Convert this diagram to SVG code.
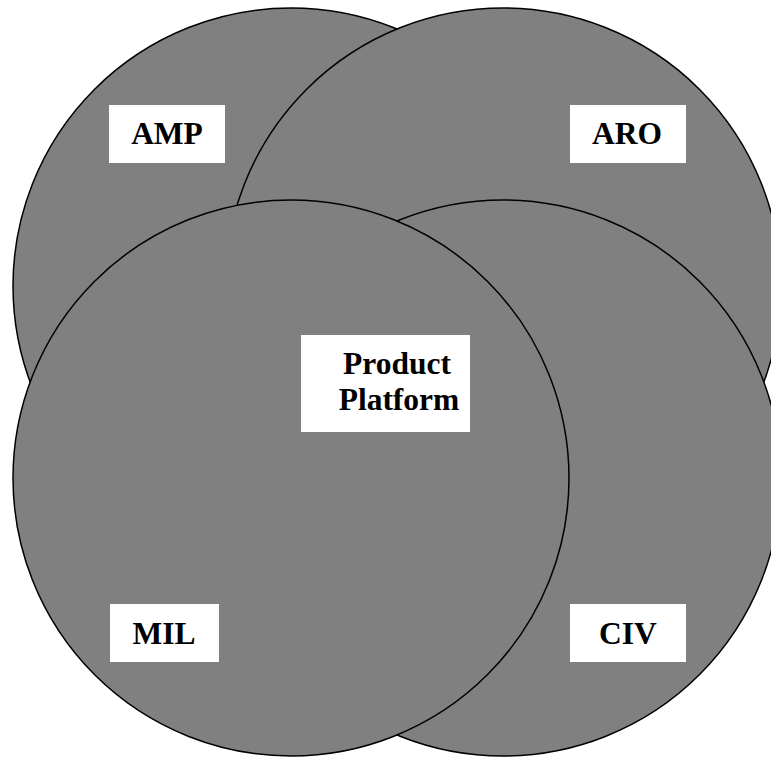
<svg xmlns="http://www.w3.org/2000/svg" width="771" height="757" viewBox="0 0 771 757">
<style>
.c{fill:#808080;stroke:#000;stroke-width:1.5}
.b{fill:#fff;stroke:none}
.t{font-family:"Liberation Serif","Times New Roman",serif;font-weight:bold;font-size:31.5px;fill:#000;text-anchor:middle}
</style>
<rect width="771" height="757" fill="#fff"/>
<g id="amp"><circle class="c" cx="291" cy="286" r="278"/></g>
<g id="aro"><circle class="c" cx="503" cy="286" r="278"/></g>
<g id="civ"><circle class="c" cx="503" cy="478" r="278"/></g>
<g id="mil"><circle class="c" cx="291" cy="478" r="278"/></g>
<g id="connectors"></g>
<g id="label-amp"><rect class="b" x="109" y="105" width="116" height="58"/><text class="t" x="167" y="144">AMP</text></g>
<g id="label-aro"><rect class="b" x="570" y="105" width="116" height="58"/><text class="t" x="627" y="144">ARO</text></g>
<g id="label-mil"><rect class="b" x="110" y="604" width="109" height="58"/><text class="t" x="164" y="644">MIL</text></g>
<g id="label-civ"><rect class="b" x="570" y="604" width="116" height="58"/><text class="t" x="628" y="644">CIV</text></g>
<g id="product-platform"><rect class="b" x="301" y="335" width="169" height="97"/><text class="t" x="397" y="374">Product</text><text class="t" x="399" y="410">Platform</text></g>
</svg>
